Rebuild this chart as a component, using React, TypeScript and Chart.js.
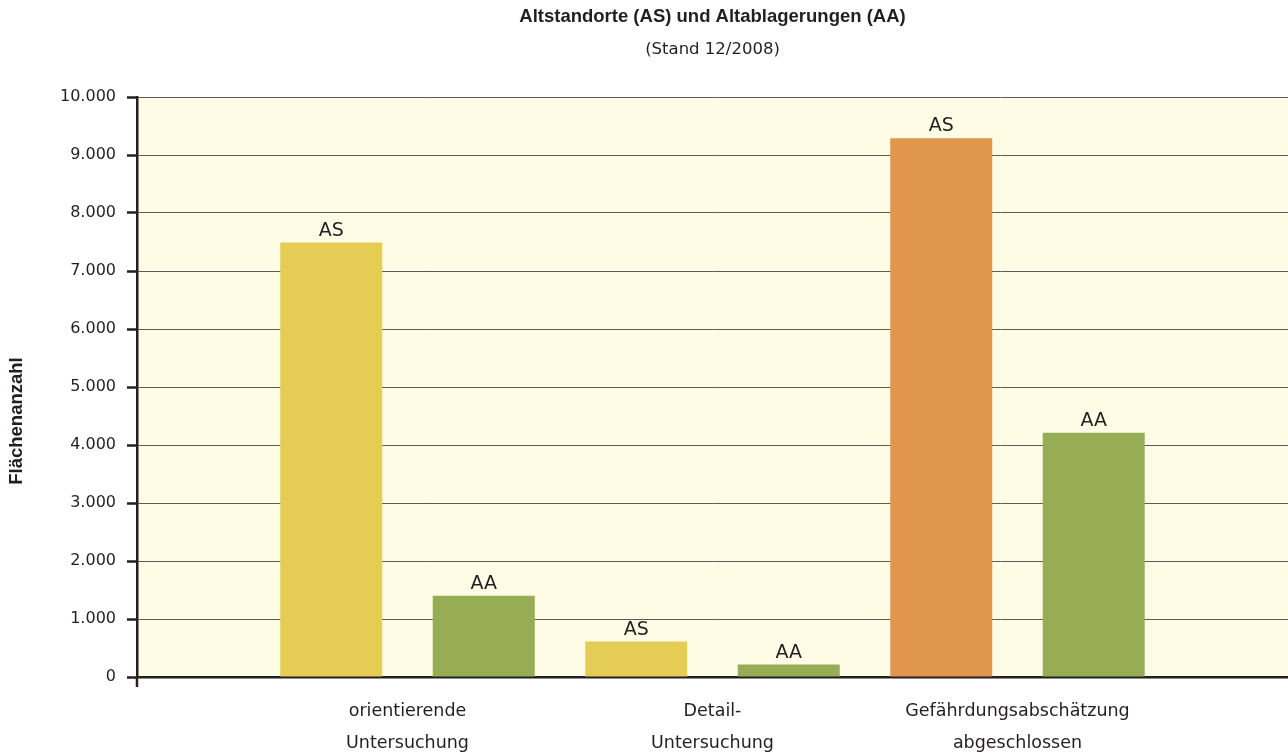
import React, { useEffect, useRef } from 'react';
import { Chart, registerables } from 'chart.js';

Chart.register(...registerables);

// ---- data ----
const TITLE = 'Altstandorte (AS) und Altablagerungen (AA)';
const SUBTITLE = '(Stand 12/2008)';
const Y_TITLE = 'Flächenanzahl';
const CATEGORIES: string[][] = [
  ['orientierende', 'Untersuchung'],
  ['Detail-', 'Untersuchung'],
  ['Gefährdungsabschätzung', 'abgeschlossen'],
];
const SERIES_LABELS = ['AS', 'AA'];
const AS_VALUES = [7490, 610, 9290];
const AA_VALUES = [1400, 215, 4210];
const Y_MIN = 0;
const Y_MAX = 10000;
const Y_STEP = 1000;

// ---- styles ----
const AS_COLORS = ['#E5CC54', '#E5CC54', '#E0964D'];
const AA_COLOR = '#97AD55';
const TEXT = '#231F20';
const PLOT_BG = '#FFFCE6';
const GRID = '#5a5a5a';
const REGULAR = '"DejaVu Sans", sans-serif';
const BOLD = '"Liberation Sans", Arial, sans-serif';

const fmt = (v: number) => String(Math.round(v)).replace(/\B(?=(\d{3})+(?!\d))/g, '.');

const decorPlugin = {
  id: 'decor',
  beforeDraw(chart: any) {
    const { ctx, chartArea } = chart;
    ctx.save();
    ctx.fillStyle = PLOT_BG;
    ctx.fillRect(chartArea.left, chartArea.top, chartArea.right - chartArea.left, chartArea.bottom - chartArea.top);
    ctx.restore();
  },
  afterDatasetsDraw(chart: any) {
    const { ctx } = chart;
    ctx.save();
    ctx.fillStyle = TEXT;
    ctx.font = '19px ' + REGULAR;
    ctx.textAlign = 'center';
    ctx.textBaseline = 'alphabetic';
    chart.data.datasets.forEach((ds: any, di: number) => {
      const meta = chart.getDatasetMeta(di);
      meta.data.forEach((el: any) => {
        ctx.fillText(ds.label, el.x, el.y - 7);
      });
    });
    ctx.restore();
  },
  afterDraw(chart: any) {
    const { ctx, chartArea } = chart;
    ctx.save();
    // y axis line continues a little below the baseline
    ctx.strokeStyle = TEXT;
    ctx.lineWidth = 2.5;
    ctx.beginPath();
    ctx.moveTo(chartArea.left, chartArea.bottom);
    ctx.lineTo(chartArea.left, chartArea.bottom + 10);
    ctx.stroke();
    // y axis title
    ctx.translate(chartArea.left - 120, (chartArea.top + chartArea.bottom) / 2 + 34);
    ctx.rotate(-Math.PI / 2);
    ctx.fillStyle = TEXT;
    ctx.font = 'bold 18.5px ' + BOLD;
    ctx.textAlign = 'center';
    ctx.textBaseline = 'middle';
    ctx.fillText(Y_TITLE, 0, 0);
    ctx.restore();
  },
};

export default function App() {
  const ref = useRef<HTMLCanvasElement | null>(null);

  useEffect(() => {
    if (!ref.current) return;
    const chart = new Chart(ref.current, {
      type: 'bar',
      data: {
        datasets: [
          {
            label: SERIES_LABELS[0],
            data: AS_VALUES.map((y, i) => ({ x: i, y })),
            backgroundColor: AS_COLORS,
            categoryPercentage: 1,
            barPercentage: 0.669,
          },
          {
            label: SERIES_LABELS[1],
            data: AA_VALUES.map((y, i) => ({ x: i, y })),
            backgroundColor: AA_COLOR,
            categoryPercentage: 1,
            barPercentage: 0.669,
          },
        ],
      },
      options: {
        responsive: false,
        animation: false,
        layout: { padding: { left: 49, right: 0, top: 0, bottom: 0 } },
        plugins: {
          legend: { display: false },
          tooltip: { enabled: false },
          title: {
            display: true,
            text: TITLE,
            fullSize: false,
            color: TEXT,
            font: { family: BOLD, size: 18.5, weight: 'bold', lineHeight: 1.2 },
            padding: { top: 6, bottom: 0 },
          },
          subtitle: {
            display: true,
            text: SUBTITLE,
            fullSize: false,
            color: TEXT,
            font: { family: REGULAR, size: 16.5, lineHeight: 1.2 },
            padding: { top: 12, bottom: 37 },
          },
        },
        scales: {
          x: {
            type: 'linear',
            offset: false,
            bounds: 'data',
            min: -0.887,
            max: CATEGORIES.length - 1 + 0.887,
            z: 1,
            grid: { display: false, drawTicks: false, offset: false },
            border: { display: true, color: TEXT, width: 2.5 },
            afterBuildTicks: (scale: any) => {
              scale.ticks = CATEGORIES.map((_, i) => ({ value: i }));
            },
            ticks: {
              autoSkip: false,
              maxRotation: 0,
              minRotation: 0,
              padding: 18,
              color: TEXT,
              font: { family: REGULAR, size: 17.5, lineHeight: 32 / 17.5 },
              callback: (v: any) => CATEGORIES[Math.round(v)] ?? '',
            },
          },
          y: {
            min: Y_MIN,
            max: Y_MAX,
            grid: {
              color: GRID,
              lineWidth: 1,
              tickColor: TEXT,
              tickLength: 10,
              tickWidth: 2.5,
            },
            border: { display: true, color: TEXT, width: 2.5 },
            ticks: {
              stepSize: Y_STEP,
              padding: 11,
              color: TEXT,
              font: { family: REGULAR, size: 16 },
              callback: (v: any) => fmt(Number(v)),
            },
          },
        },
      },
      plugins: [decorPlugin],
    } as any);
    return () => chart.destroy();
  }, []);

  return (
    <div style={{ position: 'fixed', left: 0, top: 0, width: 1288, height: 777, background: '#fff' }}>
      <canvas ref={ref} width={1288} height={777} style={{ display: 'block', width: 1288, height: 777 }} />
    </div>
  );
}
